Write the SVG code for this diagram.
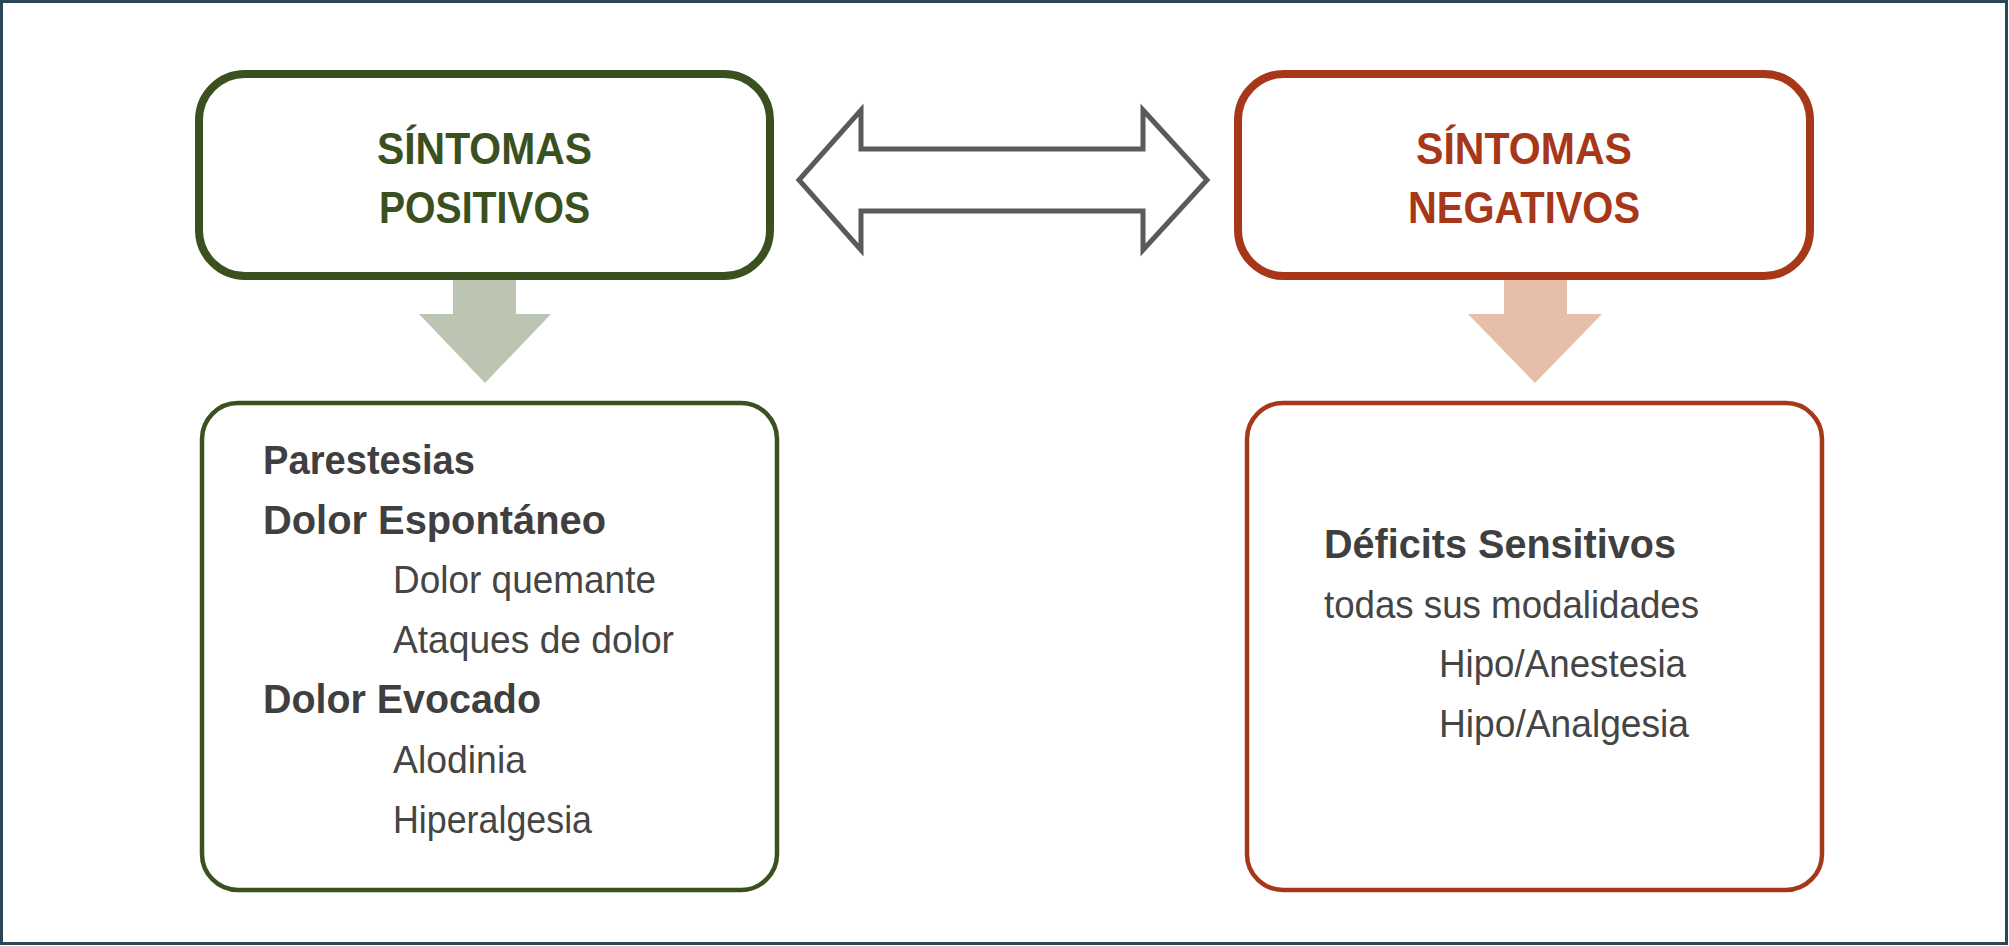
<svg xmlns="http://www.w3.org/2000/svg" width="2009" height="946" viewBox="0 0 2009 946">
<style>
.frame{fill:#ffffff;stroke:#2b4656;stroke-width:3}
.head{fill:#ffffff;stroke-width:8}
.body{fill:#ffffff;stroke-width:4.5}
.g{stroke:#3a501f}
.r{stroke:#a63719}
.title{font-family:"Liberation Sans",Arial,sans-serif;font-weight:bold;font-size:45px;text-anchor:middle}
.tg{fill:#3a501f}
.tr{fill:#a63719}
.b{font-family:"Liberation Sans",Arial,sans-serif;font-weight:bold;font-size:40px;fill:#3f3f3f}
.n{font-family:"Liberation Sans",Arial,sans-serif;font-size:39px;fill:#454545}
</style>
<rect class="frame" x="1.5" y="1.5" width="2005" height="942"/>
<g id="connectors">
<polygon id="double-arrow" points="799,180 861,110 861,149 1143,149 1143,110 1207,180 1143,250 1143,211 861,211 861,250" fill="#ffffff" stroke="#5a5a5a" stroke-width="5" stroke-linejoin="miter"/>
<polygon id="arrow-pos" points="453,276 516,276 516,314 551,314 485,383 419,314 453,314" fill="#bcc4b2"/>
<polygon id="arrow-neg" points="1504,276 1567,276 1567,314 1602,314 1535,383 1468,314 1504,314" fill="#e6bfa9"/>
</g>
<g id="node-positivos">
<rect class="head g" x="199" y="74" width="571" height="202" rx="46"/>
<text class="title tg" x="484.5" y="164" textLength="215" lengthAdjust="spacingAndGlyphs">SÍNTOMAS</text>
<text class="title tg" x="484.5" y="223" textLength="211" lengthAdjust="spacingAndGlyphs">POSITIVOS</text>
</g>
<g id="node-negativos">
<rect class="head r" x="1238" y="74" width="572" height="202" rx="46"/>
<text class="title tr" x="1524" y="164" textLength="216" lengthAdjust="spacingAndGlyphs">SÍNTOMAS</text>
<text class="title tr" x="1524" y="223" textLength="232" lengthAdjust="spacingAndGlyphs">NEGATIVOS</text>
</g>
<g id="node-positivos-detail">
<rect class="body g" x="202" y="403" width="575" height="487" rx="36"/>
<text class="b" x="263" y="474" textLength="212" lengthAdjust="spacingAndGlyphs">Parestesias</text>
<text class="b" x="263" y="534" textLength="343" lengthAdjust="spacingAndGlyphs">Dolor Espontáneo</text>
<text class="n" x="393" y="593" textLength="263" lengthAdjust="spacingAndGlyphs">Dolor quemante</text>
<text class="n" x="393" y="653" textLength="281" lengthAdjust="spacingAndGlyphs">Ataques de dolor</text>
<text class="b" x="263" y="713" textLength="278" lengthAdjust="spacingAndGlyphs">Dolor Evocado</text>
<text class="n" x="393" y="773" textLength="133" lengthAdjust="spacingAndGlyphs">Alodinia</text>
<text class="n" x="393" y="833" textLength="199" lengthAdjust="spacingAndGlyphs">Hiperalgesia</text>
</g>
<g id="node-negativos-detail">
<rect class="body r" x="1247" y="403" width="575" height="487" rx="36"/>
<text class="b" x="1324" y="558" textLength="352" lengthAdjust="spacingAndGlyphs">Déficits Sensitivos</text>
<text class="n" x="1324" y="618" textLength="375" lengthAdjust="spacingAndGlyphs">todas sus modalidades</text>
<text class="n" x="1439" y="677" textLength="247" lengthAdjust="spacingAndGlyphs">Hipo/Anestesia</text>
<text class="n" x="1439" y="737" textLength="250" lengthAdjust="spacingAndGlyphs">Hipo/Analgesia</text>
</g>
</svg>
